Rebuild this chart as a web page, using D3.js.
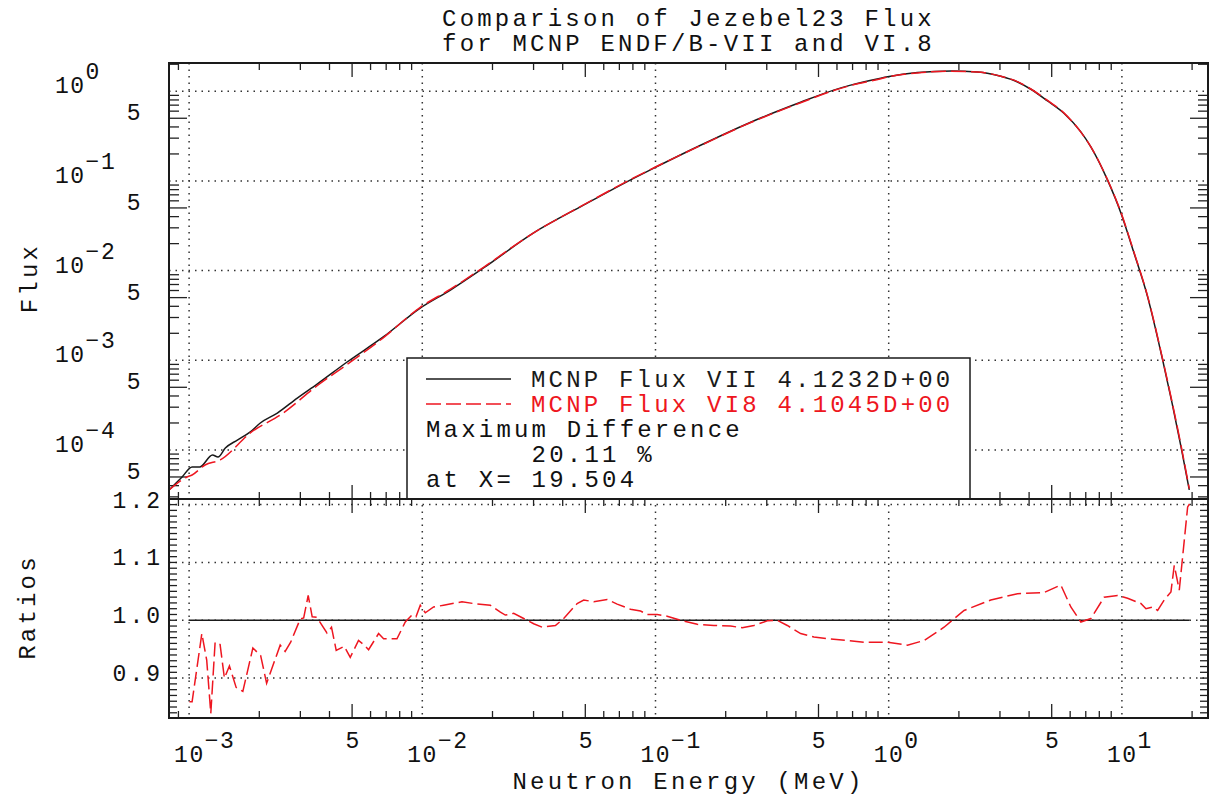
<!DOCTYPE html>
<html>
<head>
<meta charset="utf-8">
<script src="https://cdn.jsdelivr.net/npm/d3@7"></script>
<style>
  body { margin: 0; background: #fff; }
  svg text { font-family: "Liberation Mono", "DejaVu Sans Mono", monospace; fill: #111; }
  .big { font-size: 24px; letter-spacing: 3.2px; }
  .tick-label { font-size: 23px; letter-spacing: 1.5px; }
  .grid line { stroke: #333; stroke-width: 1.5; stroke-dasharray: 1.5 5; }
  .ticks line { stroke: #222; stroke-width: 1.3; }
  .frame { fill: none; stroke: #1a1a1a; stroke-width: 2; }
</style>
</head>
<body>
<svg id="chart" width="1210" height="800"></svg>
<script>
// MCNP flux, ENDF/B-VII (black)
var energyVII = [8.2e-4, 9.33e-4, 1.03e-3, 1.11e-3, 1.26e-3, 1.33e-3, 1.43e-3, 1.61e-3, 1.83e-3, 2.02e-3,
    2.39e-3, 2.91e-3, 3.54e-3, 4.76e-3, 6.8e-3, 9.8e-3, 1.32e-2, 1.83e-2, 2.99e-2, 4.91e-2,
    8.05e-2, 0.1, 0.156, 0.256, 0.419, 0.581, 0.687, 0.925, 0.99, 1.328,
    1.85, 2.403, 3.025, 3.568, 4.07, 4.799, 5.64, 6.668, 7.36, 8.68,
    9.91, 11.27, 12.89, 14.95, 17.92, 19.45]
var fluxVII = [3.58e-5, 5.0e-5, 6.47e-5, 6.47e-5, 8.8e-5, 8.35e-5, 1.05e-4, 1.29e-4, 1.59e-4, 2.0e-4,
    2.58e-4, 3.79e-4, 5.43e-4, 9.57e-4, 1.82e-3, 3.82e-3, 6.07e-3, 1.07e-2, 2.62e-2, 5.37e-2,
    0.107, 0.142, 0.250, 0.452, 0.754, 1.03, 1.17, 1.40, 1.45, 1.616,
    1.684, 1.641, 1.469, 1.269, 1.053, 0.780, 0.569, 0.352, 0.2395, 0.102,
    4.37e-2, 1.57e-2, 5.1e-3, 1.01e-3, 1.09e-4, 3.58e-5]

// MCNP flux, VI.8 (red dashed)
var energyVI8 = [8.2e-4, 9.8e-4, 1.03e-3, 1.17e-3, 1.36e-3, 1.83e-3, 2.53e-3, 3.54e-3, 4.76e-3, 6.8e-3,
    9.8e-3, 1.32e-2, 1.83e-2, 2.99e-2, 4.91e-2, 8.05e-2, 0.1, 0.156, 0.256, 0.419,
    0.581, 0.687, 0.925, 0.99, 1.328, 1.85, 2.403, 3.025, 3.568, 4.07,
    4.799, 5.64, 6.668, 7.36, 8.68, 9.91, 11.27, 12.89, 14.95, 17.92, 19.45]
var fluxVI8 = [3.58e-5, 5.0e-5, 5.26e-5, 6.8e-5, 7.74e-5, 1.55e-4, 2.58e-4, 5.2e-4, 9.0e-4, 1.78e-3,
    3.9e-3, 6.2e-3, 1.09e-2, 2.62e-2, 5.4e-2, 0.108, 0.143, 0.248, 0.448, 0.745,
    1.02, 1.16, 1.38, 1.44, 1.60, 1.675, 1.64, 1.47, 1.28, 1.06,
    0.79, 0.574, 0.35, 0.24, 0.103, 4.45e-2, 1.6e-2, 5.2e-3, 1.03e-3, 1.13e-4, 3.7e-5]

// VI8 / VII ratio
var ratioEnergy = [0.001003, 0.00103, 0.001134, 0.00119, 0.001239, 0.001293, 0.001358, 0.001417, 0.001489, 0.001591,
    0.0017, 0.001877, 0.002027, 0.00215, 0.002458, 0.002582, 0.002726, 0.002995, 0.0031, 0.003241,
    0.003372, 0.003532, 0.0039, 0.00408, 0.004274, 0.004626, 0.004909, 0.005327, 0.005638, 0.005883,
    0.006495, 0.006824, 0.007787, 0.008453, 0.009033, 0.009397, 0.009804, 0.0103, 0.01118, 0.01234,
    0.0148, 0.01717, 0.01958, 0.02162, 0.0227, 0.02465, 0.02721, 0.03003, 0.03263, 0.03722,
    0.04041, 0.04613, 0.04924, 0.05435, 0.06204, 0.06849, 0.07811, 0.08623, 0.09214, 0.1017,
    0.1122, 0.128, 0.151, 0.1779, 0.2099, 0.2355, 0.2642, 0.3016, 0.333, 0.3675,
    0.4192, 0.478, 0.5456, 0.6647, 0.7834, 0.9872, 1.203, 1.417, 1.727, 2.105,
    2.741, 3.568, 4.64, 5.472, 6.04, 6.668, 7.362, 8.395, 9.583, 10.58,
    12.06, 12.68, 13.55, 14.23, 15.19, 16.23, 16.77, 17.62, 19.14, 19.504]
var ratioValue = [0.859, 0.859, 0.977, 0.931, 0.839, 0.962, 0.958, 0.900, 0.921, 0.884,
    0.877, 0.952, 0.939, 0.891, 0.957, 0.946, 0.962, 1.002, 1.004, 1.043,
    1.006, 1.005, 0.978, 0.988, 0.948, 0.955, 0.936, 0.965, 0.957, 0.949,
    0.977, 0.968, 0.968, 0.997, 1.009, 1.006, 1.026, 1.013, 1.023, 1.026,
    1.032, 1.028, 1.026, 1.014, 1.009, 1.012, 1.003, 0.994, 0.988, 0.991,
    1.003, 1.029, 1.035, 1.032, 1.036, 1.028, 1.019, 1.016, 1.010, 1.010,
    1.007, 1.000, 0.993, 0.991, 0.990, 0.987, 0.991, 0.999, 1.000, 0.991,
    0.977, 0.971, 0.968, 0.965, 0.962, 0.962, 0.957, 0.965, 0.988, 1.017,
    1.035, 1.046, 1.048, 1.061, 1.023, 0.997, 1.003, 1.040, 1.043, 1.038,
    1.029, 1.020, 1.023, 1.017, 1.035, 1.049, 1.095, 1.052, 1.196, 1.2011]

var xDecades = [-3, -2, -1, 0, 1]
var xFiveDecades = [-3, -2, -1, 0]
var yDecades = [0, -1, -2, -3, -4]
var yFiveDecades = [-1, -2, -3, -4, -5]
var ratioTicks = [1.2, 1.1, 1.0, 0.9]
var titleLines = ['Comparison of Jezebel23 Flux', 'for MCNP ENDF/B-VII and VI.8']
var seriesNames = ['MCNP Flux VII 4.1232D+00', 'MCNP Flux VI8 4.1045D+00']
var noteLines = ['Maximum Difference', '      20.11 %', 'at X= 19.504']

var RED = '#ee1620'
var BLACK = '#1a1a1a'

var box = { left: 169, right: 1208, top: 63, split: 499, bottom: 718 }

var svg = d3.select('#chart')

var x = d3.scaleLog().domain([8.2e-4, 23.4]).range([box.left, box.right])
var yFlux = d3.scaleLog().domain([2.84e-5, 2.066]).range([box.split, box.top])
var yRatio = d3.scaleLinear().domain([0.831, 1.2097]).range([box.bottom, box.split])

function pow10(d) { return Math.pow(10, d) }

function minorValues(scale, lo, hi) {
    var out = []
    var dom = scale.domain()
    for (var e = lo; e <= hi; e++) {
        for (var m = 2; m <= 9; m++) {
            var v = m * Math.pow(10, e)
            if (v >= dom[0] && v <= dom[1]) out.push({ v: v, long: m === 5 })
        }
    }
    return out
}

function expLabel(d) { return d === 0 ? '0' : (d < 0 ? '\u2212' + (-d) : '' + d) }

function supText(g, exp, xPos, yPos) {
    var t = g.append('text')
        .attr('class', 'tick-label')
        .attr('x', xPos)
        .attr('y', yPos)
    t.append('tspan').text('10')
    t.append('tspan').attr('dy', -14).text(exp)
    return t
}

svg.append('defs').append('clipPath')
    .attr('id', 'clip-top')
    .append('rect')
    .attr('x', box.left).attr('y', box.top)
    .attr('width', box.right - box.left).attr('height', box.split - box.top)

// grid
var grid = svg.append('g').attr('class', 'grid')

grid.selectAll('line.vx')
    .data(xDecades)
    .enter()
    .append('line')
    .attr('x1', function (d) { return x(pow10(d)) })
    .attr('x2', function (d) { return x(pow10(d)) })
    .attr('y1', box.top)
    .attr('y2', box.bottom)

grid.selectAll('line.hy')
    .data(yDecades)
    .enter()
    .append('line')
    .attr('x1', box.left)
    .attr('x2', box.right)
    .attr('y1', function (d) { return yFlux(pow10(d)) })
    .attr('y2', function (d) { return yFlux(pow10(d)) })

grid.selectAll('line.hr')
    .data(ratioTicks)
    .enter()
    .append('line')
    .attr('x1', box.left)
    .attr('x2', box.right)
    .attr('y1', function (d) { return yRatio(d) })
    .attr('y2', function (d) { return yRatio(d) })

// ticks
var ticks = svg.append('g').attr('class', 'ticks')
var xMinor = minorValues(x, -4, 1)
var yMinor = minorValues(yFlux, -5, 0)

function xTickRow(yBase, dir) {
    ticks.append('g').selectAll('line')
        .data(xMinor)
        .enter()
        .append('line')
        .attr('x1', function (d) { return x(d.v) })
        .attr('x2', function (d) { return x(d.v) })
        .attr('y1', yBase)
        .attr('y2', function (d) { return yBase + dir * (d.long ? 14 : 7) })
}
xTickRow(box.top, 1)
xTickRow(box.split, -1)
xTickRow(box.split, 1)
xTickRow(box.bottom, -1)

function yTickCol(xBase, dir) {
    ticks.append('g').selectAll('line')
        .data(yMinor)
        .enter()
        .append('line')
        .attr('x1', xBase)
        .attr('x2', function (d) { return xBase + dir * (d.long ? 18 : 10) })
        .attr('y1', function (d) { return yFlux(d.v) })
        .attr('y2', function (d) { return yFlux(d.v) })
}
yTickCol(box.left, 1)
yTickCol(box.right, -1)

var ratioMinor = d3.range(84, 121).map(function (d) { return d / 100 })
function rTickCol(xBase, dir) {
    ticks.append('g').selectAll('line')
        .data(ratioMinor)
        .enter()
        .append('line')
        .attr('x1', xBase)
        .attr('x2', xBase + dir * 8)
        .attr('y1', function (d) { return yRatio(d) })
        .attr('y2', function (d) { return yRatio(d) })
}
rTickCol(box.left, 1)
rTickCol(box.right, -1)

// legend box (white, covers the grid)
var legend = svg.append('g').attr('id', 'legend')
legend.append('rect')
    .attr('x', 407).attr('y', 358)
    .attr('width', 563).attr('height', box.split - 358)
    .attr('fill', '#fff')
    .attr('stroke', BLACK)
    .attr('stroke-width', 1.5)

// flux curves
var fluxLine = d3.line()
    .curve(d3.curveMonotoneX)
    .x(function (d) { return x(d[0]) })
    .y(function (d) { return yFlux(d[1]) })

var plotTop = svg.append('g').attr('clip-path', 'url(#clip-top)')

plotTop.append('path')
    .datum(d3.zip(energyVII, fluxVII))
    .attr('d', fluxLine)
    .attr('fill', 'none')
    .attr('stroke', BLACK)
    .attr('stroke-width', 1.5)

plotTop.append('path')
    .datum(d3.zip(energyVI8, fluxVI8))
    .attr('d', fluxLine)
    .attr('fill', 'none')
    .attr('stroke', RED)
    .attr('stroke-width', 1.5)
    .attr('stroke-dasharray', '15 5')

// ratio panel
svg.append('line')
    .attr('x1', x(ratioEnergy[0]))
    .attr('x2', x(ratioEnergy[ratioEnergy.length - 1]))
    .attr('y1', yRatio(1))
    .attr('y2', yRatio(1))
    .attr('stroke', BLACK)
    .attr('stroke-width', 1.5)

svg.append('path')
    .datum(d3.zip(ratioEnergy, ratioValue))
    .attr('d', d3.line()
        .x(function (d) { return x(d[0]) })
        .y(function (d) { return yRatio(d[1]) }))
    .attr('fill', 'none')
    .attr('stroke', RED)
    .attr('stroke-width', 1.5)
    .attr('stroke-dasharray', '14 5')

// legend contents
legend.append('line')
    .attr('x1', 426).attr('x2', 511)
    .attr('y1', 379).attr('y2', 379)
    .attr('stroke', BLACK).attr('stroke-width', 1.5)
legend.append('line')
    .attr('x1', 426).attr('x2', 511)
    .attr('y1', 404).attr('y2', 404)
    .attr('stroke', RED).attr('stroke-width', 1.5)
    .attr('stroke-dasharray', '15 5')

legend.selectAll('text.series')
    .data(seriesNames)
    .enter()
    .append('text')
    .attr('class', 'big')
    .attr('x', 531)
    .attr('y', function (_, i) { return 387 + i * 25 })
    .style('fill', function (_, i) { return i === 0 ? BLACK : RED })
    .text(function (d) { return d })

legend.selectAll('text.note')
    .data(noteLines)
    .enter()
    .append('text')
    .attr('class', 'big')
    .attr('x', 426)
    .attr('y', function (_, i) { return 437 + i * 25 })
    .attr('xml:space', 'preserve')
    .style('white-space', 'pre')
    .text(function (d) { return d })

// frame
svg.append('rect')
    .attr('class', 'frame')
    .attr('x', box.left).attr('y', box.top)
    .attr('width', box.right - box.left).attr('height', box.bottom - box.top)
svg.append('line')
    .attr('x1', box.left).attr('x2', box.right)
    .attr('y1', box.split).attr('y2', box.split)
    .attr('stroke', '#1a1a1a').attr('stroke-width', 2)

// axis labels
var labels = svg.append('g').attr('id', 'labels')

yDecades.forEach(function (d) {
    supText(labels, expLabel(d), 55, yFlux(pow10(d)) + 2)
})
yFiveDecades.forEach(function (d) {
    labels.append('text')
        .attr('class', 'tick-label')
        .attr('x', 142)
        .attr('y', yFlux(5 * pow10(d)) + 2)
        .attr('text-anchor', 'end')
        .text('5')
})
ratioTicks.forEach(function (d) {
    labels.append('text')
        .attr('class', 'tick-label')
        .style('letter-spacing', '3px')
        .attr('x', 163)
        .attr('y', yRatio(d) + 3)
        .attr('text-anchor', 'end')
        .text(d.toFixed(1))
})
xDecades.forEach(function (d) {
    supText(labels, expLabel(d), x(pow10(d)) - 15, 762)
})
xFiveDecades.forEach(function (d) {
    labels.append('text')
        .attr('class', 'tick-label')
        .attr('x', x(5 * pow10(d)) + 1)
        .attr('y', 748)
        .attr('text-anchor', 'middle')
        .text('5')
})

labels.append('text')
    .attr('class', 'big')
    .attr('x', (box.left + box.right) / 2)
    .attr('y', 789)
    .attr('text-anchor', 'middle')
    .text('Neutron Energy (MeV)')

labels.append('text')
    .attr('class', 'big')
    .attr('transform', 'translate(37, 278) rotate(-90)')
    .attr('text-anchor', 'middle')
    .text('Flux')

labels.append('text')
    .attr('class', 'big')
    .attr('transform', 'translate(35, 607) rotate(-90)')
    .attr('text-anchor', 'middle')
    .text('Ratios')

labels.selectAll('text.title')
    .data(titleLines)
    .enter()
    .append('text')
    .attr('class', 'big')
    .attr('x', (box.left + box.right) / 2)
    .attr('y', function (_, i) { return 26 + i * 25 })
    .attr('text-anchor', 'middle')
    .text(function (d) { return d })
</script>
</body>
</html>
